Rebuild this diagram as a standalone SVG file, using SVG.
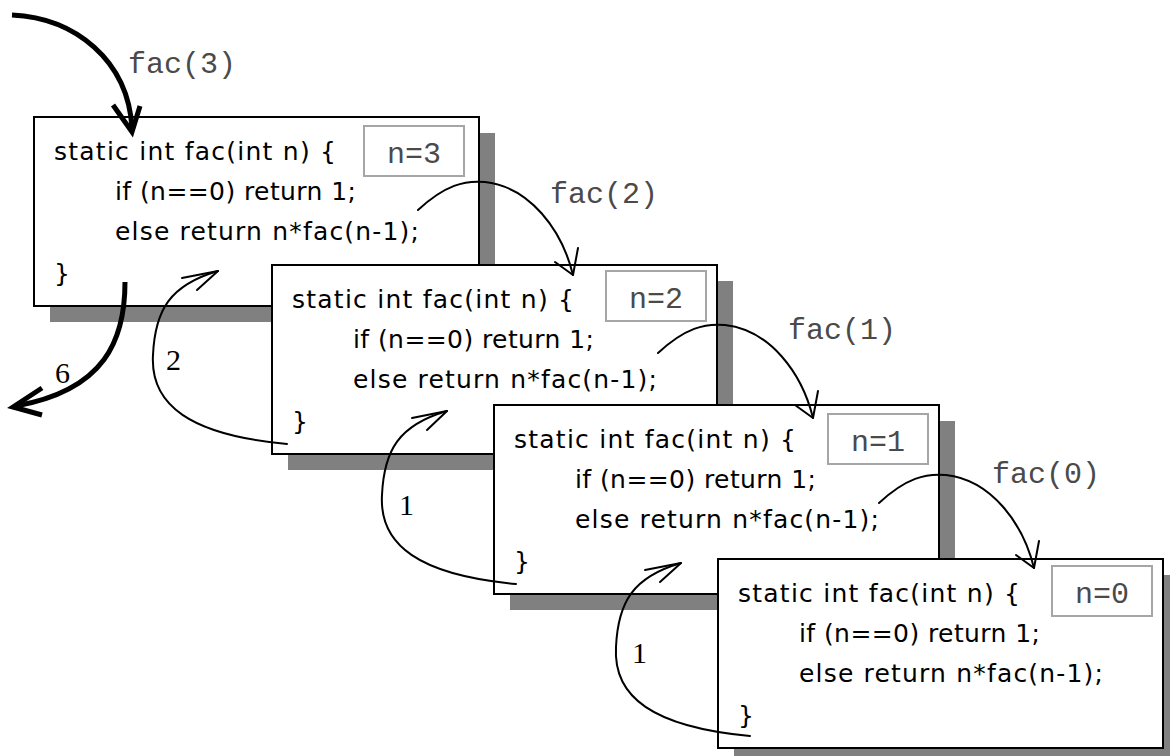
<svg xmlns="http://www.w3.org/2000/svg" width="1170" height="756" viewBox="0 0 1170 756">
<style>
.bg{fill:#ffffff}
.shadow{fill:#808080}
.box{fill:#ffffff;stroke:#000000;stroke-width:2}
.nbox{fill:#ffffff;stroke:#a6a6a6;stroke-width:2}
.code{font-family:"DejaVu Sans","Noto Sans",sans-serif;font-size:25px;fill:#000000}
.mono{font-family:"Liberation Mono","Courier New",monospace;font-size:30px;fill:#4a4a4a}
.num{font-family:"Liberation Serif","Times New Roman",serif;font-size:30px;fill:#000000}
.thin{fill:none;stroke:#000000;stroke-width:2;stroke-linecap:round;stroke-linejoin:round}
.thick{fill:none;stroke:#000000;stroke-width:5;stroke-linecap:butt;stroke-linejoin:miter}
</style>
<rect class="bg" x="0" y="0" width="1170" height="756"/>

<g id="frame-n3">
<rect class="shadow" x="50" y="133" width="445" height="189"/>
<rect class="box" x="34" y="117" width="445" height="189"/>
<text class="code" x="54" y="160" textLength="282" lengthAdjust="spacing">static int fac(int n) {</text>
<text class="code" x="115" y="200" textLength="241" lengthAdjust="spacing">if (n==0) return 1;</text>
<text class="code" x="115" y="240" textLength="304" lengthAdjust="spacing">else return n*fac(n-1);</text>
<text class="code" x="54" y="282">}</text>
<rect class="nbox" x="364" y="126" width="100" height="50"/>
<text class="mono" x="414" y="163" text-anchor="middle">n=3</text>
</g>

<g id="frame-n2">
<rect class="shadow" x="288" y="281" width="445" height="189"/>
<rect class="box" x="272" y="265" width="445" height="189"/>
<text class="code" x="292" y="308" textLength="282" lengthAdjust="spacing">static int fac(int n) {</text>
<text class="code" x="353" y="348" textLength="241" lengthAdjust="spacing">if (n==0) return 1;</text>
<text class="code" x="353" y="388" textLength="304" lengthAdjust="spacing">else return n*fac(n-1);</text>
<text class="code" x="292" y="430">}</text>
<rect class="nbox" x="606" y="271" width="100" height="50"/>
<text class="mono" x="656" y="308" text-anchor="middle">n=2</text>
</g>

<g id="frame-n1">
<rect class="shadow" x="510" y="421" width="445" height="189"/>
<rect class="box" x="494" y="405" width="445" height="189"/>
<text class="code" x="514" y="448" textLength="282" lengthAdjust="spacing">static int fac(int n) {</text>
<text class="code" x="575" y="488" textLength="241" lengthAdjust="spacing">if (n==0) return 1;</text>
<text class="code" x="575" y="528" textLength="304" lengthAdjust="spacing">else return n*fac(n-1);</text>
<text class="code" x="514" y="570">}</text>
<rect class="nbox" x="828" y="414" width="100" height="50"/>
<text class="mono" x="878" y="451" text-anchor="middle">n=1</text>
</g>

<g id="frame-n0">
<rect class="shadow" x="734" y="575" width="445" height="189"/>
<rect class="box" x="718" y="559" width="445" height="189"/>
<text class="code" x="738" y="602" textLength="282" lengthAdjust="spacing">static int fac(int n) {</text>
<text class="code" x="799" y="642" textLength="241" lengthAdjust="spacing">if (n==0) return 1;</text>
<text class="code" x="799" y="682" textLength="304" lengthAdjust="spacing">else return n*fac(n-1);</text>
<text class="code" x="738" y="724">}</text>
<rect class="nbox" x="1052" y="566" width="100" height="50"/>
<text class="mono" x="1102" y="603" text-anchor="middle">n=0</text>
</g>

<g id="connectors">
<g id="call-fac3">
<path class="thick" d="M12,15 C75,18 128,60 132,128"/>
<path class="thick" d="M113,105 L132,132 L140,106"/>
<text class="mono" x="128" y="73">fac(3)</text>
</g>
<g id="return-6">
<path class="thick" d="M125,282 C125,340 105,390 16,406"/>
<path class="thick" d="M42,388 L13,407 L42,415"/>
<text class="num" x="55" y="383">6</text>
</g>
<g id="call-fac2">
<path class="thin" d="M418,210 C445,185 465,180 485,182 C530,187 562,230 573,275"/>
<path class="thin" d="M555,262 L573,275 L578,248"/>
<text class="mono" x="550" y="203">fac(2)</text>
</g>
<g id="call-fac1">
<path class="thin" d="M658,353 C685,328 705,323 725,325 C770,330 802,373 813,418"/>
<path class="thin" d="M795,405 L813,418 L818,391"/>
<text class="mono" x="788" y="339">fac(1)</text>
</g>
<g id="call-fac0">
<path class="thin" d="M879,503 C906,478 926,473 946,475 C991,480 1023,523 1034,568"/>
<path class="thin" d="M1016,555 L1034,568 L1039,541"/>
<text class="mono" x="992" y="483">fac(0)</text>
</g>
<g id="return-2">
<path class="thin" d="M287,444 C190,435 150,405 153,355 C155,310 170,285 218,271"/>
<path class="thin" d="M182,278 L218,271 L197,290"/>
<text class="num" x="166" y="370">2</text>
</g>
<g id="return-1a">
<path class="thin" d="M516,584 C419,575 379,545 382,495 C384,450 399,425 447,411"/>
<path class="thin" d="M412,418 L447,411 L427,430"/>
<text class="num" x="399" y="515">1</text>
</g>
<g id="return-1b">
<path class="thin" d="M750,736 C653,727 613,697 616,647 C618,602 633,577 681,563"/>
<path class="thin" d="M645,570 L681,563 L660,582"/>
<text class="num" x="632" y="663">1</text>
</g>
</g>
</svg>
